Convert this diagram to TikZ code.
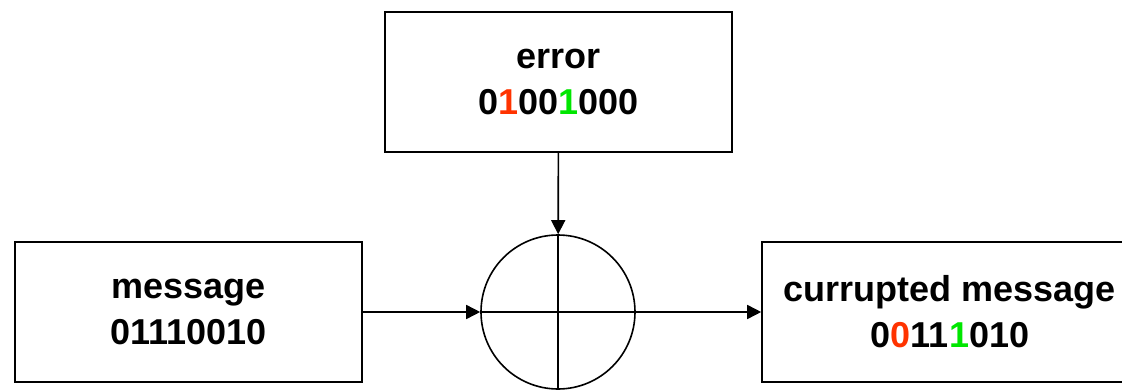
\documentclass[tikz,border=0pt]{standalone}
\usepackage{fontspec}
\setmainfont{Liberation Sans}
\usetikzlibrary{arrows.meta}
\definecolor{bitred}{RGB}{255,51,0}
\definecolor{bitgreen}{RGB}{0,230,0}

\begin{document}
\begin{tikzpicture}[x=0.75pt, y=0.75pt,
  box/.style={draw, line width=1.2pt, minimum height=105pt, align=center, inner sep=0pt,
    font=\fontsize{27}{34.5}\selectfont\bfseries},
  arr/.style={-{Triangle[length=10.5pt, width=10.5pt]}, line width=1.2pt}]
\clip (0,0) rectangle (1122,390);

\node[box, minimum width=260pt] (err) at (558.5, 308) {error\\0\textcolor{bitred}{1}00\textcolor{bitgreen}{1}000};
\node[box, minimum width=260pt] (msg) at (188.5, 78) {message\\01110010};
\node[box, minimum width=282pt] (cor) at (950, 78) {currupted message\\0\textcolor{bitred}{0}11\textcolor{bitgreen}{1}010};
\node[draw, circle, line width=1.2pt, minimum size=115.5pt, inner sep=0pt] (xor) at (558, 78) {};
\draw[line width=1.2pt] (xor.north) -- (xor.south) (xor.west) -- (xor.east);

\draw[arr] (err) -- (xor);
\draw[arr] (msg) -- (xor);
\draw[arr] (xor) -- (cor);
\end{tikzpicture}
\end{document}
